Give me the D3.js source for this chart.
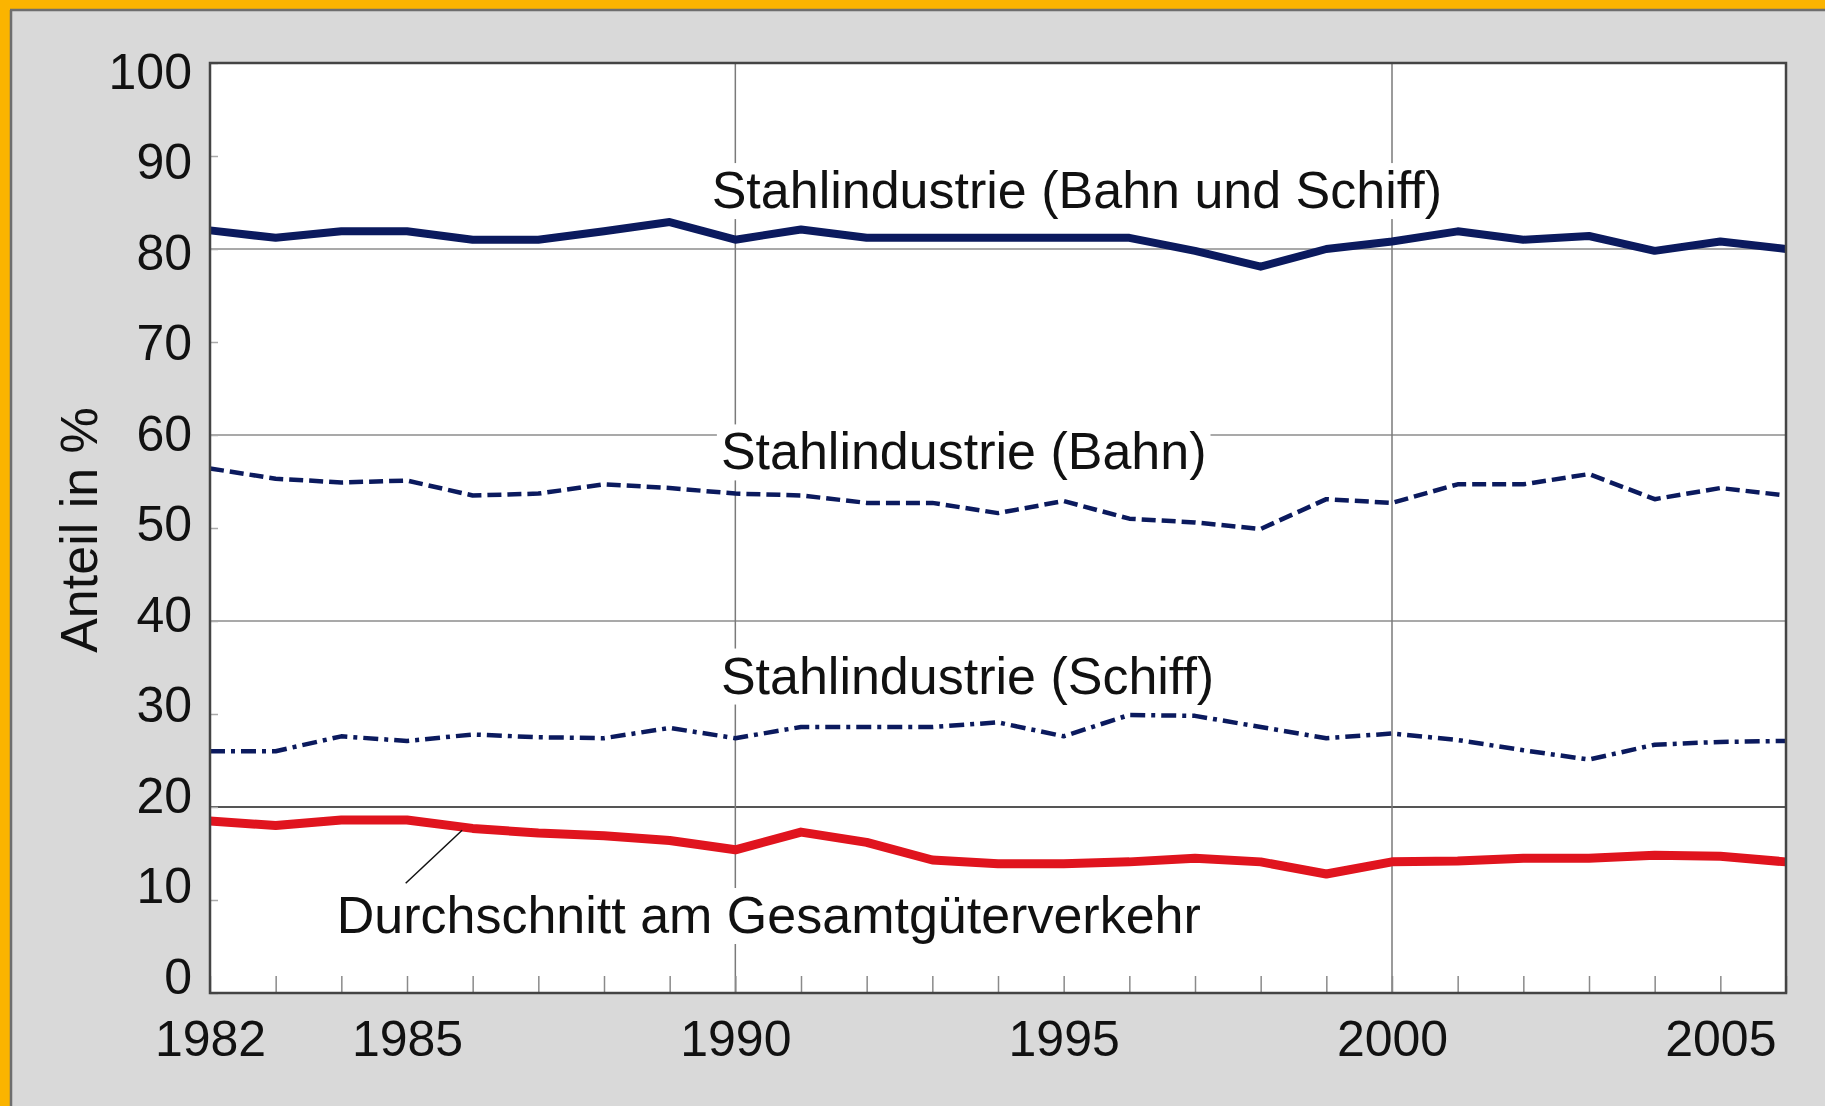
<!DOCTYPE html>
<html>
<head>
<meta charset="utf-8">
<script src="https://cdn.jsdelivr.net/npm/d3@7"></script>
<style>
  body { margin: 0; background: #d9d9d9; }
  svg { display: block; font-family: "Liberation Sans", Arial, sans-serif; }
</style>
</head>
<body>
<div id="chart"></div>
<script>
// data
const years = d3.range(1982, 2007);
const bahnUndSchiff = [82.0, 81.2, 81.9, 81.9, 81.0, 81.0, 81.9, 82.9, 81.0, 82.1, 81.2, 81.2,
  81.2, 81.2, 81.2, 79.8, 78.1, 80.0, 80.8, 81.9, 81.0, 81.4, 79.8, 80.8, 80.0];
const bahn = [56.4, 55.3, 54.9, 55.1, 53.5, 53.7, 54.7, 54.3, 53.7, 53.5, 52.7, 52.7,
  51.6, 52.9, 51.0, 50.6, 49.9, 53.1, 52.7, 54.7, 54.7, 55.8, 53.1, 54.3, 53.5];
const schiff = [26.0, 26.0, 27.6, 27.1, 27.8, 27.5, 27.4, 28.5, 27.4, 28.6, 28.6, 28.6,
  29.1, 27.6, 29.9, 29.8, 28.6, 27.4, 27.9, 27.2, 26.1, 25.1, 26.7, 27.0, 27.1];
const durchschnitt = [18.5, 18.0, 18.6, 18.6, 17.7, 17.2, 16.9, 16.4, 15.4, 17.3, 16.2, 14.3,
  13.9, 13.9, 14.1, 14.5, 14.1, 12.8, 14.1, 14.2, 14.5, 14.5, 14.8, 14.7, 14.1];

const yTicks = [0, 10, 20, 30, 40, 50, 60, 70, 80, 90, 100];
const xTickLabels = [1982, 1985, 1990, 1995, 2000, 2005];
const yGrid = [20, 40, 60, 80];
const xGrid = [1990, 2000];

// labels placed in data units
const labels = [
  { text: "Stahlindustrie (Bahn und Schiff)", year: 1989.64, value: 84.4 },
  { text: "Stahlindustrie (Bahn)", year: 1989.78, value: 56.3 },
  { text: "Stahlindustrie (Schiff)", year: 1989.78, value: 32.2 },
  { text: "Durchschnitt am Gesamtgüterverkehr", year: 1983.93, value: 6.45 }
];
const leader = [[1984.98, 11.8], [1985.84, 17.5]];

const W = 1825, H = 1106;
const margin = {top: 63, right: 39, bottom: 113, left: 210},
    width = W - margin.left - margin.right,
    height = H - margin.top - margin.bottom;

const svg = d3.select("#chart").append("svg")
    .attr("width", W)
    .attr("height", H);

// frame: gray panel with orange edge at left and top
svg.append("rect").attr("width", W).attr("height", H).attr("fill", "#d9d9d9");
svg.append("rect").attr("x", 0).attr("y", 0).attr("width", 10).attr("height", H).attr("fill", "#fbb400");
svg.append("rect").attr("x", 0).attr("y", 0).attr("width", W).attr("height", 9).attr("fill", "#fbb400");
svg.append("line").attr("x1", 11).attr("x2", 11).attr("y1", 10).attr("y2", H)
  .attr("stroke", "#6e6e6e").attr("stroke-width", 2.5);
svg.append("line").attr("x1", 10).attr("x2", W).attr("y1", 10).attr("y2", 10)
  .attr("stroke", "#6e6e6e").attr("stroke-width", 2.5);

const g = svg.append("g")
    .attr("transform", "translate(" + margin.left + "," + margin.top + ")");

const x = d3.scaleLinear().domain([1982, 2006]).range([0, width]);
const y = d3.scaleLinear().domain([0, 100]).range([height, 0]);
// the printed tick labels sit on a slightly tighter spacing than the ticks
const yLab = d3.scaleLinear().domain([0, 100]).range([height - 16, 9]);

g.append("rect").attr("width", width).attr("height", height).attr("fill", "#fff");

// grid
g.selectAll(".hgrid").data(yGrid).enter().append("line")
    .attr("x1", 0).attr("x2", width)
    .attr("y1", d => y(d)).attr("y2", d => y(d))
    .attr("stroke", d => d === 20 ? "#555" : "#8c8c8c")
    .attr("stroke-width", d => d === 20 ? 2 : 1.5);
g.selectAll(".vgrid").data(xGrid).enter().append("line")
    .attr("x1", d => x(d)).attr("x2", d => x(d))
    .attr("y1", 0).attr("y2", height)
    .attr("stroke", "#7a7a7a").attr("stroke-width", 1.5);

// inner minor ticks
g.append("g")
    .attr("transform", "translate(0," + height + ")")
    .call(d3.axisBottom(x).tickValues(years).tickSize(-17).tickFormat(""))
    .call(a => a.select(".domain").remove())
    .call(a => a.selectAll("line").attr("stroke", "#8a8a8a").attr("stroke-width", 1.5));
g.append("g")
    .call(d3.axisLeft(y).tickValues(yTicks).tickSize(-8).tickFormat(""))
    .call(a => a.select(".domain").remove())
    .call(a => a.selectAll("line").attr("stroke", "#aaa").attr("stroke-width", 1.5));

// tick labels
g.append("g")
    .call(d3.axisLeft(yLab).tickValues(yTicks).tickSize(0).tickPadding(18))
    .call(a => a.select(".domain").remove())
    .call(a => a.selectAll("text").attr("font-size", 50).attr("fill", "#111")
      .attr("font-family", "Liberation Sans, Arial, sans-serif"));
g.append("g")
    .attr("transform", "translate(0," + height + ")")
    .call(d3.axisBottom(x).tickValues(xTickLabels).tickSize(0).tickPadding(27).tickFormat(d3.format("d")))
    .call(a => a.select(".domain").remove())
    .call(a => a.selectAll("text").attr("font-size", 50).attr("fill", "#111")
      .attr("font-family", "Liberation Sans, Arial, sans-serif"));

// axis title
svg.append("text")
    .attr("transform", "translate(97,530)rotate(-90)")
    .attr("text-anchor", "middle")
    .attr("font-size", 52)
    .attr("fill", "#111")
    .text("Anteil in %");

// lines
const line = d3.line().x((d, i) => x(years[i])).y(d => y(d));
const series = [
  { values: bahnUndSchiff, color: "#0b1a5e", w: 8, dash: null },
  { values: bahn, color: "#0b1a5e", w: 4.5, dash: "14,6" },
  { values: schiff, color: "#0b1a5e", w: 4.5, dash: "15,6,4,6" },
  { values: durchschnitt, color: "#e0141e", w: 9, dash: null }
];
g.selectAll(".series").data(series).enter().append("path")
    .attr("d", d => line(d.values))
    .attr("fill", "none")
    .attr("stroke", d => d.color)
    .attr("stroke-width", d => d.w)
    .attr("stroke-dasharray", d => d.dash)
    .attr("stroke-linejoin", "round");

// leader line
g.append("path")
    .attr("d", d3.line().x(d => x(d[0])).y(d => y(d[1]))(leader))
    .attr("stroke", "#111").attr("stroke-width", 1.5).attr("fill", "none");

// labels with white backing
const lab = g.selectAll(".lab").data(labels).enter().append("g");
lab.append("text")
    .attr("x", d => x(d.year))
    .attr("y", d => y(d.value))
    .attr("font-size", 52)
    .attr("fill", "#111")
    .text(d => d.text);
lab.each(function() {
  const t = d3.select(this).select("text");
  const b = t.node().getBBox();
  d3.select(this).insert("rect", "text")
    .attr("x", b.x - 4).attr("y", b.y + 2)
    .attr("width", b.width + 8).attr("height", b.height - 2)
    .attr("fill", "#fff");
});

// plot frame
g.append("rect").attr("width", width).attr("height", height)
    .attr("fill", "none").attr("stroke", "#444").attr("stroke-width", 2.5);
</script>
</body>
</html>
